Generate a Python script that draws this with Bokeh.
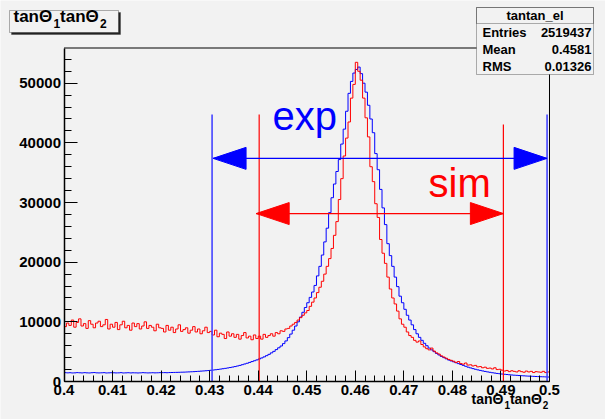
import numpy as np
from bokeh.plotting import figure
from bokeh.models import (Range1d, Label, BoxAnnotation, FixedTicker,
                          CustomJSTickFormatter)
from bokeh.embed import file_html
from bokeh.resources import INLINE

# ---------------- data ----------------
bin_start = 0.40
bin_width = 0.0005

# experimental distribution (blue), 200 bins of 0.0005 from 0.40 to 0.50
exp_counts = [
    1480, 1450, 1470, 1430, 1450, 1490, 1460, 1440, 1480, 1450, 1430, 1470, 1500, 1450, 1440, 1460, 1480, 1430, 1450, 1470,
    1460, 1440, 1450, 1480, 1430, 1450, 1470, 1440, 1460, 1450, 1430, 1450, 1480, 1460, 1440, 1450, 1470, 1450, 1460, 1480,
    1480, 1490, 1470, 1500, 1510, 1520, 1530, 1540, 1560, 1570, 1590, 1610, 1630, 1650, 1680, 1710, 1740, 1770, 1800, 1840,
    1880, 1920, 1970, 2020, 2080, 2140, 2200, 2270, 2340, 2420, 2500, 2600, 2700, 2820, 2940, 3060, 3200, 3340, 3480, 3620,
    3780, 3950, 4130, 4330, 4550, 4800, 5050, 5350, 5650, 5950, 6350, 6800, 7350, 7950, 8600, 9300, 10000, 10800, 11600, 12400,
    13200, 14100, 15000, 16100, 17700, 19300, 21200, 23400, 25700, 28300, 30800, 33100, 35200, 37200, 39800, 42300, 45300, 48300, 50300, 51700,
    52300, 52700, 51600, 50000, 48500, 46300, 44000, 41700, 38200, 35500, 32200, 29100, 26300, 23100, 21100, 19300, 17500, 15900, 14300, 13200,
    12100, 11100, 10300, 9500, 8700, 8000, 7400, 6900, 6400, 6000, 5600, 5300, 5000, 4700, 4450, 4200, 4000, 3800, 3600, 3450,
    3300, 3150, 3000, 2850, 2700, 2550, 2400, 2280, 2160, 2050, 1950, 1860, 1770, 1690, 1610, 1540, 1470, 1410, 1350, 1300,
    1250, 1210, 1170, 1130, 1090, 1060, 1030, 1000, 970, 950, 920, 900, 880, 860, 840, 820, 800, 790, 770, 750,
]

# simulated distribution (red)
sim_counts = [
    9200, 9800, 9400, 10300, 9100, 9900, 10500, 9300, 9700, 8900, 10200, 9600, 9000, 9800, 10100, 9200, 9500, 10400, 8800, 9600,
    9100, 9900, 8700, 9500, 10100, 9000, 9400, 8600, 9800, 9200, 9700, 8800, 9300, 10000, 8900, 9400, 9100, 8500, 9600, 9000,
    8900, 8300, 9400, 8600, 9100, 8200, 8800, 9500, 8400, 8700, 9000, 8100, 8600, 9200, 8300, 8800, 8000, 8500, 9100, 8200,
    8400, 7800, 8600, 7500, 8100, 7900, 7200, 8300, 7600, 8000, 7400, 7900, 7100, 7700, 8200, 7300, 7600, 7000, 7800, 7200,
    7600, 7100, 7900, 7400, 7700, 8000, 7600, 8200, 8000, 8500, 8400, 8800, 8900, 9300, 9600, 9900, 10300, 10700, 11100, 11500,
    11900, 12600, 13300, 14000, 14900, 15800, 16800, 18000, 19300, 20600, 22300, 24500, 26800, 30500, 34000, 37800, 40800, 43500, 47500, 49800,
    53500, 52000, 50500, 47500, 44200, 41000, 36000, 33500, 29800, 27500, 23800, 21500, 19800, 17500, 15500, 14000, 13000, 11800, 10500, 9600,
    9100, 8300, 7700, 7400, 6900, 6600, 6800, 6200, 5800, 5500, 5300, 5600, 5100, 4800, 4600, 4300, 4100, 3900, 3700, 3550,
    3400, 3200, 3350, 3000, 2900, 3100, 2750, 2800, 2600, 2700, 2450, 2500, 2300, 2400, 2200, 2250, 2100, 2300, 2000, 2050,
    1900, 1750, 1850, 1650, 1800, 1700, 1600, 1800, 1650, 1550, 1750, 1600, 1700, 1500, 1650, 1600, 1550, 1700, 1500, 1600,
]

# cut windows
exp_cut = [0.4305, 0.4995]
exp_cut_top = [44750, 44750]
exp_arrow_level = 37400
sim_cut = [0.4402, 0.4905]
sim_cut_top = [44750, 43070]
sim_arrow_level = 28150

x_ticks = [0.40, 0.41, 0.42, 0.43, 0.44, 0.45, 0.46, 0.47, 0.48, 0.49, 0.50]
x_tick_labels = ["0.4", "0.41", "0.42", "0.43", "0.44", "0.45", "0.46", "0.47", "0.48", "0.49", "0.5"]
y_ticks = [0, 10000, 20000, 30000, 40000, 50000]
y_tick_labels = ["0", "10000", "20000", "30000", "40000", "50000"]

hist_name = "tantan_el"
stats_names = ["Entries", "Mean", "RMS"]
stats_values = ["2519437", "0.4581", "0.01326"]

# ---------------- layout ----------------
W, H = 605, 419
FL, FR, FT, FB = 63.5, 549, 47.5, 381      # histogram frame edges in page pixels
XMIN, XMAX, YMIN, YMAX = 0.40, 0.50, 0, 55900
BG = "#f2f2f2"
FONT = "Liberation Sans"
BASE_FIX = 0.4   # em shift to place the alphabetic baseline where wanted


def px_x(px):
    return XMIN + (px - FL) * (XMAX - XMIN) / (FR - FL)


def px_y(py):
    return YMIN + (FB - py) * (YMAX - YMIN) / (FB - FT)


def base_y(py, size):
    return px_y(py - BASE_FIX * size)


p = figure(width=W, height=H, x_range=Range1d(px_x(0), px_x(W)), y_range=Range1d(px_y(H), px_y(0)),
           output_backend="svg", toolbar_location=None, title=None,
           min_border=0, min_border_left=0, min_border_right=0, min_border_top=0, min_border_bottom=0)
p.background_fill_color = BG
p.border_fill_color = BG
p.outline_line_color = None
p.xgrid.visible = False
p.ygrid.visible = False

fmt_code = """
const i = tvals.findIndex(t => Math.abs(t - tick) < 1e-9);
return i >= 0 ? tlabels[i] : '';
"""
x_minor = [float(v) for v in np.round(np.arange(0.40, 0.5001, 0.002), 4)]
y_minor = list(range(0, 56000, 2000))
p.xaxis.ticker = FixedTicker(ticks=x_ticks, minor_ticks=x_minor)
p.xaxis.formatter = CustomJSTickFormatter(args=dict(tvals=x_ticks, tlabels=x_tick_labels), code=fmt_code)
p.yaxis.ticker = FixedTicker(ticks=y_ticks, minor_ticks=y_minor)
p.yaxis.formatter = CustomJSTickFormatter(args=dict(tvals=y_ticks, tlabels=y_tick_labels), code=fmt_code)
p.xaxis.fixed_location = YMIN
p.yaxis.fixed_location = XMIN
p.xaxis.bounds = (XMIN, XMAX)
p.yaxis.bounds = (YMIN, YMAX)

for ax, tin, mtin in ((p.xaxis, 11, 6), (p.yaxis, 13, 7)):
    ax.major_tick_in = tin
    ax.major_tick_out = 0
    ax.minor_tick_in = mtin
    ax.minor_tick_out = 0
    ax.axis_line_width = 1.5
    ax.major_tick_line_width = 1
    ax.minor_tick_line_width = 1
    ax.major_label_text_font = FONT
    ax.major_label_text_font_style = "bold"
    ax.major_label_text_font_size = "15px"
    ax.major_label_text_color = "black"
    ax.major_label_standoff = 3

# frame top and right edges
p.segment(x0=[XMIN, XMAX], y0=[YMAX, YMIN], x1=[XMAX, XMAX], y1=[YMAX, YMAX], line_color="black", line_width=1)

# histograms
edges = bin_start + bin_width * np.arange(len(exp_counts) + 1)
p.step(x=edges, y=exp_counts + [exp_counts[-1]], mode="after", line_color="#0000ff", line_width=1)
p.step(x=edges, y=sim_counts + [sim_counts[-1]], mode="after", line_color="#ff0000", line_width=1)

# cut lines
p.segment(x0=exp_cut, y0=[0, 0], x1=exp_cut, y1=exp_cut_top, line_color="#4444ff", line_width=1.6)
p.segment(x0=sim_cut, y0=[0, 0], x1=sim_cut, y1=sim_cut_top, line_color="#ff0000", line_width=1.2)

# double arrows
head_len = 33 * (XMAX - XMIN) / (FR - FL)
head_half = 11 * (YMAX - YMIN) / (FB - FT)
for cut, lvl, col, tip_off in ((exp_cut, exp_arrow_level, "#0000ff", 1), (sim_cut, sim_arrow_level, "#ff0000", -3)):
    a = cut[0] + tip_off * (XMAX - XMIN) / (FR - FL)
    b = cut[1]
    p.segment(x0=[a], y0=[lvl], x1=[b], y1=[lvl], line_color=col, line_width=1.2)
    p.patches(xs=[[a, a + head_len, a + head_len], [b, b - head_len, b - head_len]],
              ys=[[lvl, lvl + head_half, lvl - head_half], [lvl, lvl + head_half, lvl - head_half]],
              fill_color=col, line_color=col, line_width=1)

p.add_layout(Label(x=px_x(272), y=base_y(131, 40), text="exp", text_color="#0000ff", text_font=FONT,
                   text_font_size="40px", text_baseline="alphabetic"))
p.add_layout(Label(x=px_x(428), y=base_y(198, 40), text="sim", text_color="#ff0000", text_font=FONT,
                   text_font_size="40px", text_baseline="alphabetic"))

# title box (top-left)
p.add_layout(BoxAnnotation(left=px_x(11), right=px_x(120), top=px_y(12), bottom=px_y(34),
                           fill_color="#222222", fill_alpha=1, line_color="#222222", line_width=1))
p.add_layout(BoxAnnotation(left=px_x(9), right=px_x(118), top=px_y(10), bottom=px_y(32),
                           fill_color=BG, fill_alpha=1, line_color="black", line_width=1))


def rich(x0, base, parts, big, small, sub_drop):
    x = x0
    for txt, is_sub in parts:
        size = small if is_sub else big
        p.add_layout(Label(x=px_x(x), y=base_y(base + (sub_drop if is_sub else 0), size), text=txt,
                           text_font=FONT, text_font_style="bold", text_font_size=f"{size}px",
                           text_color="black", text_baseline="alphabetic"))
        x += (0.556 if is_sub else 2.35) * size


title_parts = [("tanΘ", False), ("1", True), ("tanΘ", False), ("2", True)]
rich(13, 23, title_parts, 17, 12, 5)
rich(471, 404, title_parts, 14, 10, 4)

# stats box (top-right)
SL, SR, ST, SB, SH = 476, 593, 7, 74, 23
p.add_layout(BoxAnnotation(left=px_x(SL), right=px_x(SR), top=px_y(ST), bottom=px_y(SB),
                           fill_color=BG, fill_alpha=1, line_color="black", line_width=1))
p.add_layout(BoxAnnotation(left=px_x(SL), right=px_x(SR), top=px_y(ST), bottom=px_y(SH),
                           fill_alpha=0, line_color="black", line_width=1))
p.add_layout(Label(x=px_x((SL + SR) / 2), y=base_y(20, 13), text=hist_name, text_font=FONT,
                   text_font_style="bold", text_font_size="13px", text_align="center",
                   text_baseline="alphabetic", text_color="black"))
for i, (nm, val) in enumerate(zip(stats_names, stats_values)):
    base = 37 + 17 * i
    p.add_layout(Label(x=px_x(SL + 6), y=base_y(base, 13), text=nm, text_font=FONT, text_font_style="bold",
                       text_font_size="13px", text_baseline="alphabetic", text_color="black"))
    p.add_layout(Label(x=px_x(SR - 2), y=base_y(base, 13), text=val, text_font=FONT, text_font_style="bold",
                       text_font_size="13px", text_align="right", text_baseline="alphabetic",
                       text_color="black"))

html = file_html(p, INLINE)
html = html.replace("<body>", f'<body style="background-color:{BG};">', 1)
open("out.html", "w").write(html)
